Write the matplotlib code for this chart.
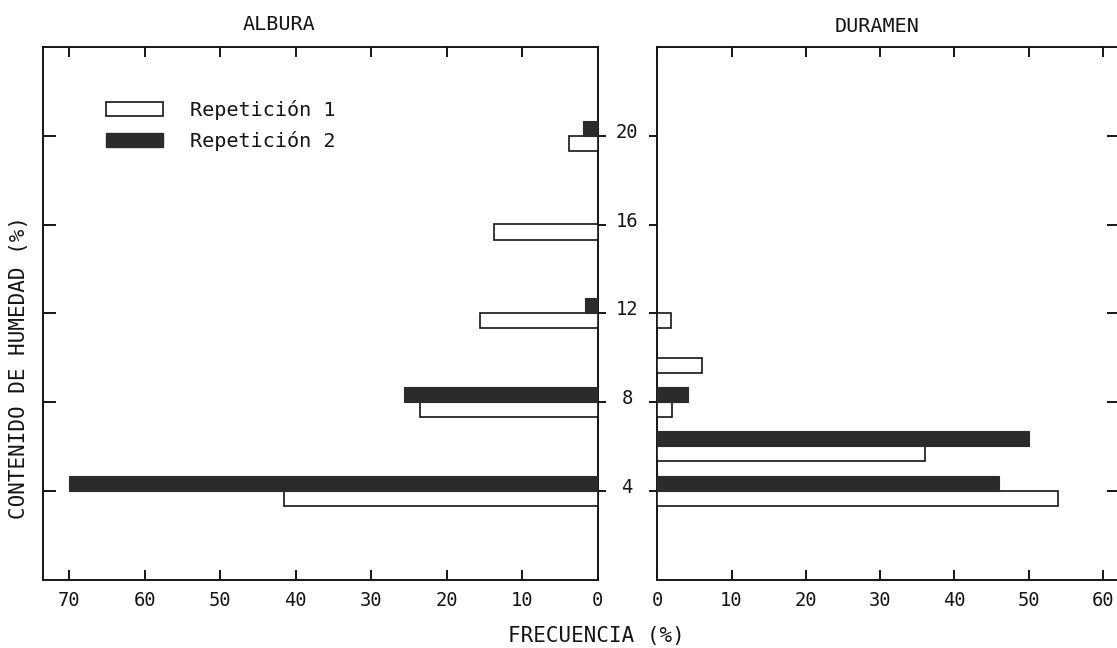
import matplotlib
matplotlib.use("Agg")
import matplotlib.pyplot as plt
from matplotlib.patches import Patch
from matplotlib.transforms import blended_transform_factory

# contenido de humedad (%) de cada clase
humedad = [4, 6, 8, 10, 12, 16, 20]

# frecuencia (%) por clase
albura_rep1 = [41.6, 0, 23.5, 0, 15.6, 13.7, 3.8]
albura_rep2 = [70.0, 0, 25.7, 0, 1.7, 0, 2.0]
duramen_rep1 = [54.0, 36.0, 2.0, 6.0, 1.9, 0, 0]
duramen_rep2 = [46.0, 50.1, 4.2, 0, 0, 0, 0]

y_ticks = [4, 8, 12, 16, 20]
albura_xticks = [70, 60, 50, 40, 30, 20, 10, 0]
duramen_xticks = [0, 10, 20, 30, 40, 50, 60]

FONT = "DejaVu Sans Mono"
DARK = "#2b2b2b"
INK = "#151515"
BAR_H = 0.68
W, H = 1117, 648

plt.rcParams["font.family"] = FONT

fig = plt.figure(figsize=(W / 100, H / 100), dpi=100)
bottom = (H - 579.5) / H
height = (579.5 - 47) / H
ax1 = fig.add_axes([42.7 / W, bottom, (597.8 - 42.7) / W, height])
ax2 = fig.add_axes([657.2 / W, bottom, (1119.5 - 657.2) / W, height])


def draw_bars(ax, rep1, rep2):
    y1 = [y - BAR_H / 2 for y, v in zip(humedad, rep1) if v > 0]
    v1 = [v for v in rep1 if v > 0]
    y2 = [y + BAR_H / 2 for y, v in zip(humedad, rep2) if v > 0]
    v2 = [v for v in rep2 if v > 0]
    ax.barh(y1, v1, height=BAR_H, color="white", edgecolor=INK, linewidth=1.2, zorder=3)
    ax.barh(y2, v2, height=BAR_H, color=DARK, edgecolor=DARK, linewidth=0.8, zorder=3)


draw_bars(ax1, albura_rep1, albura_rep2)
draw_bars(ax2, duramen_rep1, duramen_rep2)

ax1.set_xlim(73.5, 0)
ax2.set_xlim(0, (1119.5 - 657.2) / 7.43)
for ax in (ax1, ax2):
    ax.set_ylim(0, 24)
    for s in ax.spines.values():
        s.set_linewidth(1.4)
        s.set_color(INK)
    ax.tick_params(axis="x", which="both", direction="in", top=True, bottom=True,
                   length=7, width=1.4, labelsize=13.5, pad=8, colors=INK)

ax1.set_xticks(albura_xticks)
ax2.set_xticks(duramen_xticks)

# eje y: marcas hacia dentro en el borde exterior, hacia fuera en el centro
ax1.set_yticks(y_ticks)
ax1.tick_params(axis="y", direction="in", left=True, right=False, labelleft=False,
                length=9, width=1.4, color=INK)
ax1r = ax1.twinx()
ax1r.set_ylim(0, 24)
ax1r.set_yticks(y_ticks)
ax1r.tick_params(axis="y", direction="out", right=True, labelright=False,
                 length=6, width=1.4, color=INK)
for s in ax1r.spines.values():
    s.set_visible(False)

ax2.set_yticks(y_ticks)
ax2.tick_params(axis="y", direction="out", left=True, right=False, labelleft=False,
                length=6, width=1.4, color=INK)
ax2r = ax2.twinx()
ax2r.set_ylim(0, 24)
ax2r.set_yticks(y_ticks)
ax2r.tick_params(axis="y", direction="in", right=True, labelright=False,
                 length=9, width=1.4, color=INK)
for s in ax2r.spines.values():
    s.set_visible(False)

# etiquetas del eje y entre los dos paneles
trans = blended_transform_factory(fig.transFigure, ax2.transData)
for y in y_ticks:
    ax2.text(627 / W, y + 0.15, str(y), transform=trans, ha="center", va="center",
             fontsize=13.5, color=INK)

fig.text(279 / W, 1 - 25 / H, "ALBURA", ha="center", va="center", fontsize=14.5, color=INK)
fig.text(877 / W, 1 - 26 / H, "DURAMEN", ha="center", va="center", fontsize=14.5, color=INK)
fig.text(596.5 / W, 1 - 636 / H, "FRECUENCIA (%)", ha="center", va="center", fontsize=15, color=INK)
fig.text(19 / W, 1 - 367.5 / H, "CONTENIDO DE HUMEDAD (%)", ha="center", va="center",
         rotation=90, fontsize=15, color=INK)

handles = [Patch(facecolor="white", edgecolor=INK, linewidth=1.2, label="Repetición 1"),
           Patch(facecolor=DARK, edgecolor=DARK, label="Repetición 2")]
fig.legend(handles=handles, loc="upper left", bbox_to_anchor=(106 / W, 1 - 100 / H),
           frameon=False, fontsize=14.5, handlelength=2.85, handleheight=0.7,
           handletextpad=1.3, labelspacing=0.55, borderpad=0, borderaxespad=0,
           labelcolor=INK)

fig.savefig("out.png", dpi=100)
